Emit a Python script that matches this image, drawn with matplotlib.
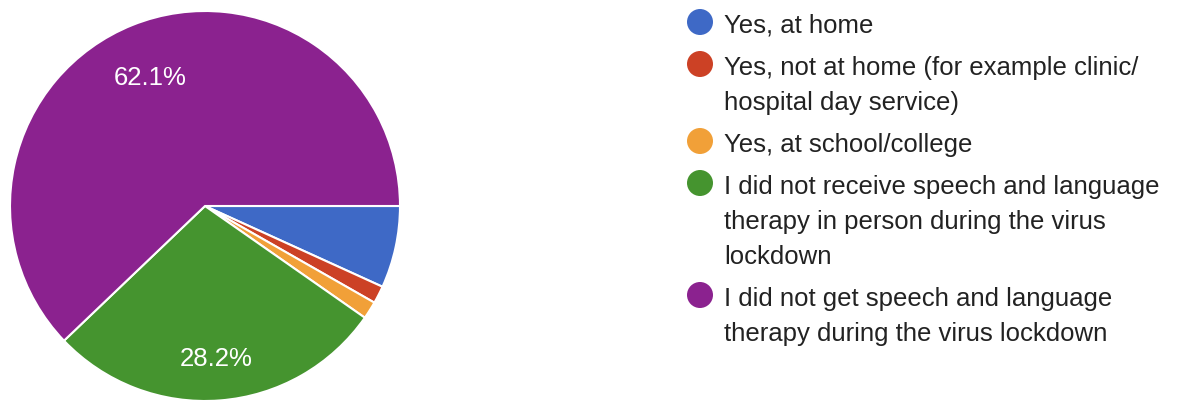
import matplotlib.pyplot as plt
from matplotlib.patches import Circle

# survey answers (counts of respondents)
labels = [
    "Yes, at home",
    "Yes, not at home (for example clinic/\nhospital day service)",
    "Yes, at school/college",
    "I did not receive speech and language\ntherapy in person during the virus\nlockdown",
    "I did not get speech and language\ntherapy during the virus lockdown",
]
counts = [14, 3, 3, 58, 128]
colors = ["#3e69c6", "#cc4125", "#f1a038", "#45942f", "#8b228f"]

W, H = 1177, 402
fig = plt.figure(figsize=(W / 100, H / 100), dpi=100)
plt.rcParams['font.family'] = ['Liberation Sans', 'DejaVu Sans']

# pie, centre at (205, 207) px, radius 195 px
ax = fig.add_axes([10 / W, 0, 390 / W, 390 / H])
wedges, texts, autotexts = ax.pie(
    counts, colors=colors, startangle=0, counterclock=False,
    autopct=lambda p: f"{p:.1f}%" if p > 10 else "",
    pctdistance=0.75,
    wedgeprops=dict(edgecolor="white", linewidth=1.5),
    textprops=dict(color="white", fontsize=18.5))
for t in autotexts:
    x, y = t.get_position()
    t.set_position((x, y - 0.02))
    t.set_va("center_baseline")
ax.set_xlim(-1, 1)
ax.set_ylim(-1, 1)
ax.set_aspect("equal")
ax.axis("off")

# legend drawn by hand so the dot lines up with the first text line
lax = fig.add_axes([0, 0, 1, 1])
lax.set_xlim(0, W)
lax.set_ylim(H, 0)
lax.axis("off")

y = 23
for lab, col in zip(labels, colors):
    lax.add_patch(Circle((700, y), 13, color=col, lw=0))
    lines = lab.split("\n")
    for i, line in enumerate(lines):
        lax.text(724, y + i * 35 + 10, line, fontsize=18.5, color="#222222",
                 va="baseline", ha="left")
    y += (len(lines) - 1) * 35 + 42

fig.savefig("out.png", dpi=100)
